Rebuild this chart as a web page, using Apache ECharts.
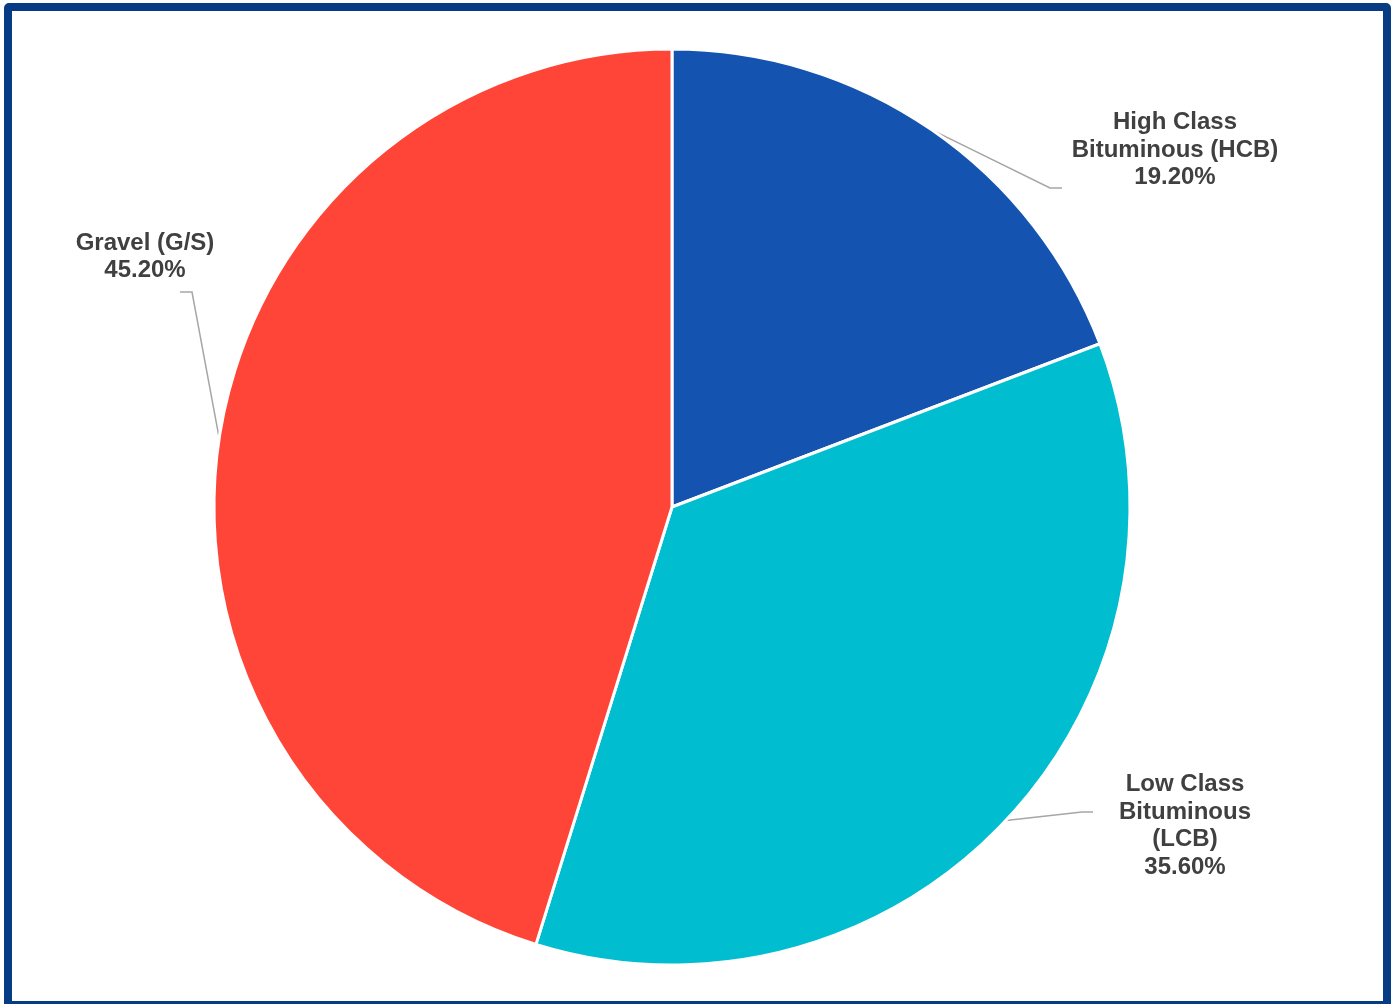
<!DOCTYPE html>
<html>
<head>
<meta charset="utf-8">
<script src="https://cdn.jsdelivr.net/npm/echarts@6/dist/echarts.min.js"></script>
<style>
html,body{margin:0;padding:0;background:#fff;width:1393px;height:1004px;overflow:hidden;}
#frame{position:absolute;left:4px;top:3px;width:1387px;height:1006px;box-sizing:border-box;border:8px solid #073B83;border-radius:5px;}
#chart{position:absolute;left:0;top:0;width:1393px;height:1004px;}
</style>
</head>
<body>
<div id="frame"></div>
<div id="chart"></div>
<script>
const categories = ['High Class\nBituminous (HCB)', 'Low Class\nBituminous\n(LCB)', 'Gravel (G/S)'];
const values = [19.2, 35.6, 45.2];
const colors = ['#1553B1', '#00BDCF', '#FF4538'];

// label placement (text center, leader bend, leader end) in pixels
const labelPlace = [
  {x: 1175, y: 150, bend: [1050, 188], end: [1062, 188]},
  {x: 1185, y: 826, bend: [1082, 812], end: [1093, 812]},
  {x: 145, y: 257, bend: [192, 292], end: [180, 292]}
];

const chart = echarts.init(document.getElementById('chart'), null, {renderer: 'canvas'});
chart.setOption({
  animation: false,
  backgroundColor: 'transparent',
  series: [{
    type: 'pie',
    center: [672, 507],
    radius: 458,
    startAngle: 90,
    clockwise: true,
    data: categories.map((c, i) => ({name: c, value: values[i], itemStyle: {color: colors[i]}})),
    itemStyle: {borderColor: '#ffffff', borderWidth: 3},
    label: {
      show: true,
      position: 'outside',
      formatter: p => p.name + '\n' + p.value.toFixed(2) + '%',
      fontFamily: 'Liberation Sans, Arial, sans-serif',
      fontWeight: 'bold',
      fontSize: 24,
      lineHeight: 27.5,
      color: '#404040',
      align: 'center'
    },
    labelLine: {show: true, length: 30, length2: 15, lineStyle: {color: '#A6A6A6', width: 1.5}},
    labelLayout: function (params) {
      const p = labelPlace[params.dataIndex];
      const start = params.labelLinePoints ? params.labelLinePoints[0] : p.bend;
      return {
        x: p.x, y: p.y, align: 'center', verticalAlign: 'middle',
        labelLinePoints: [start, p.bend, p.end]
      };
    },
    emphasis: {disabled: true}
  }]
});
</script>
</body>
</html>
